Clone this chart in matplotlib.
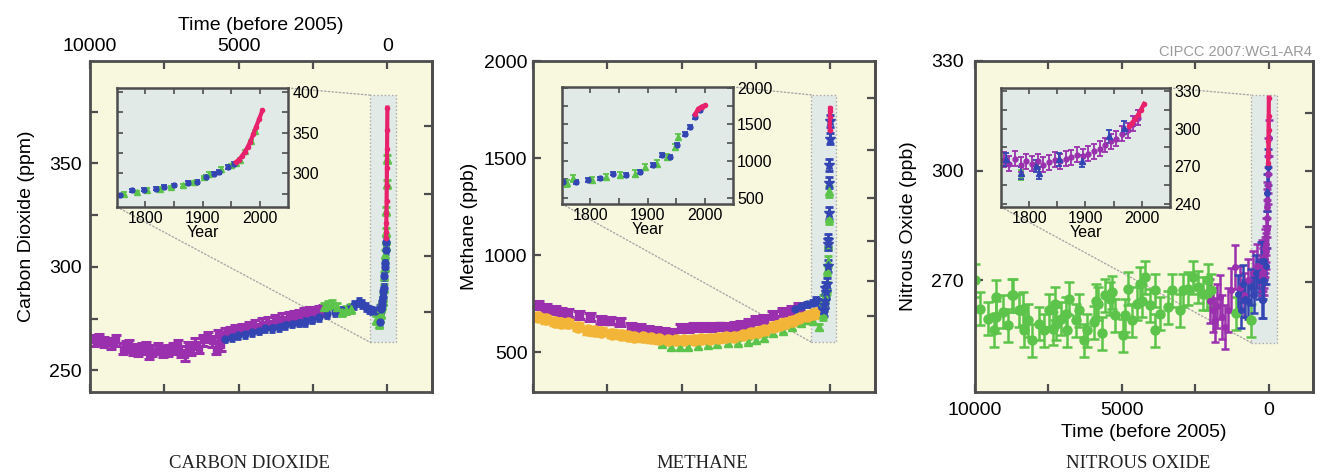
import numpy as np
import matplotlib.pyplot as plt
from matplotlib.patches import Rectangle, ConnectionPatch

plt.rcParams["font.family"] = ["Liberation Sans", "DejaVu Sans"]

PURPLE = "#9a30ad"
BLUE = "#3345b3"
GREEN = "#5cc44a"
PINK = "#e8216c"
YELLOW = "#f3b538"
MAIN_BG = "#f7f8de"
INSET_BG = "#e2eae8"
SPINE = "#4d4d4d"
GUIDE = "#a8a8a8"
BASE_YEAR = 2005

# ---------------- carbon dioxide (ppm) ----------------
# main panel: age in years before 2005
co2_purple_age = [9860, 9700, 9520, 9300, 9125, 8900, 8800, 8680, 8550, 8390, 8250, 8110,
                  8000, 7900, 7720, 7550, 7380, 7200, 7040, 6950, 6820, 6700, 6600, 6480,
                  6350, 6200, 6030, 5900, 5750, 5690, 5600, 5460, 5300, 5130, 4900, 4670,
                  4450, 4230, 4000, 3780, 3550, 3320, 3150, 2980, 2800, 2650, 2450, 2300, 2150]
co2_purple_val = [264.5, 265.0, 263.7, 263.0, 264.5, 260.5, 261.5, 262.0, 260.0, 259.7, 260.5, 261.3,
                  258.0, 259.5, 260.5, 259.0, 259.7, 260.5, 262.0, 259.0, 257.3, 261.3, 260.0, 262.9,
                  261.0, 264.5, 266.1, 264.0, 260.5, 266.9, 262.0, 267.7, 268.5, 269.3, 270.0, 270.9,
                  271.5, 272.6, 273.0, 274.2, 275.0, 275.8, 276.0, 276.6, 277.5, 278.2, 278.0, 278.6, 279.0]
co2_blue_age = [5460, 5230, 5010, 4780, 4560, 4330, 4110, 3880, 3660, 3430, 3210, 2980, 2760,
                2540, 2310, 2030, 1750, 1520, 1300, 1120, 960, 850, 735, 620, 510, 400, 280]
co2_blue_val = [265.3, 266.0, 266.9, 267.5, 268.5, 269.2, 270.2, 270.5, 270.9, 271.8, 272.6, 273.0, 273.3,
                274.5, 275.8, 277.0, 278.2, 279.0, 279.8, 281.5, 283.0, 282.0, 280.6, 279.5, 279.0, 278.5, 279.8]
co2_green_age = [2140, 2000, 1860, 1700, 1520, 1380, 1240, 395, 330, 280]
co2_green_val = [280.6, 281.5, 282.2, 280.5, 278.2, 279.0, 279.8, 274.2, 275.0, 272.6]
# inset: calendar year
co2_in_blue_year = [1756, 1776, 1797, 1818, 1832, 1850, 1874, 1891, 1906, 1921, 1929, 1944, 1956]
co2_in_blue_val = [273.3, 279.4, 280.2, 281.4, 283.5, 285.5, 288.4, 289.6, 295.7, 299.8, 301.8, 308.0, 312.0]
co2_in_green_year = [1762, 1785, 1803, 1826, 1844, 1865, 1885, 1903, 1912, 1932, 1950, 1959, 1965, 1975, 1985, 1992]
co2_in_green_val = [275.3, 277.3, 280.2, 281.4, 283.5, 285.5, 289.6, 295.7, 299.8, 306.0, 310.0, 312.9,
                    317.0, 327.0, 340.0, 352.0]
co2_in_pink_year = [1959, 1964, 1969, 1974, 1979, 1984, 1989, 1994, 1999, 2005]
co2_in_pink_val = [314, 317, 321, 326, 332, 339, 348, 357, 366, 377]

# ---------------- methane (ppb) ----------------
ch4_purple_age = [9830, 9550, 9270, 9050, 8830, 8450, 8100, 7700, 7400, 7090, 6700, 6400, 6140,
                  5850, 5580, 5300, 5020, 4800, 4570, 4300, 4010, 3700, 3450, 3200, 3000, 2750,
                  2500, 2220, 1940, 1600, 1300, 1040]
ch4_purple_val = [742, 728, 716, 708, 700, 690, 682, 665, 662, 656, 630, 625, 613,
                  608, 605, 600, 622, 625, 630, 628, 630, 632, 630, 635, 639, 650,
                  665, 670, 690, 705, 715, 733]
ch4_yellow_age = [9830, 9550, 9270, 9050, 8830, 8500, 8150, 7900, 7700, 7350, 7030, 6800, 6590,
                  6300, 6020, 5750, 5470, 5200, 4910, 4600, 4340, 4050, 3790, 3500, 3230, 2950,
                  2660, 2450, 2220, 1940, 1700, 1500, 1250, 1040, 800, 600, 480]
ch4_yellow_val = [682, 668, 656, 652, 648, 630, 613, 608, 605, 595, 588, 583, 579,
                  575, 571, 566, 562, 561, 562, 563, 565, 568, 571, 575, 579, 588,
                  596, 605, 613, 630, 640, 650, 660, 674, 685, 695, 700]
ch4_green_age = [5650, 5350, 5050, 4790, 4450, 4120, 3800, 3450, 3100, 2780, 2500, 2220, 1940,
                 1600, 1300, 1000, 815, 600, 370]
ch4_green_val = [540, 527, 525, 527, 532, 536, 540, 545, 549, 553, 562, 571, 596,
                 610, 630, 650, 665, 660, 630]
ch4_blue_age = [1200, 1000, 800, 600, 480, 350, 300]
ch4_blue_val = [720, 735, 745, 755, 768, 760, 740]
ch4_in_blue_year = [1752, 1775, 1796, 1816, 1840, 1863, 1887, 1910, 1925, 1940, 1951, 1966, 1975, 1984, 1992]
ch4_in_blue_val = [717, 717, 740, 762, 830, 808, 853, 943, 1079, 1057, 1215, 1373, 1464, 1600, 1690]
ch4_in_green_year = [1758, 1770, 1802, 1828, 1852, 1878, 1896, 1916, 1934, 1948, 1954]
ch4_in_green_val = [695, 762, 740, 785, 808, 830, 921, 966, 1057, 1192, 1328]
ch4_in_pink_year = [1984, 1989, 1995, 2001]
ch4_in_pink_val = [1645, 1713, 1744, 1758]

# ---------------- nitrous oxide (ppb) ----------------
n2o_green_age = [10000, 9835, 9570, 9340, 9280, 9270, 9060, 8890, 8740, 8710, 8500, 8380, 8330,
                 8180, 8050, 7820, 7650, 7480, 7360, 7280, 7240, 7090, 6910, 6860, 6810, 6580,
                 6470, 6300, 6190, 5960, 5900, 5820, 5680, 5570, 5400, 5340, 5230, 4980, 4890,
                 4780, 4660, 4500, 4380, 4320, 4210, 4040, 3870, 3870, 3700, 3420, 3300, 3020,
                 2910, 2740, 2570, 2400, 2230, 2120, 2060, 1960, 1110, 610]
n2o_green_val = [270.0, 262.3, 259.5, 256.4, 260.0, 265.5, 261.4, 257.7, 265.9, 265.9, 261.8, 262.3, 256.4,
                 259.1, 253.6, 258.2, 256.4, 261.8, 256.8, 263.6, 258.2, 259.5, 260.9, 256.4, 265.0, 259.1,
                 261.8, 253.6, 256.4, 258.6, 264.5, 263.6, 255.5, 265.9, 265.0, 266.8, 260.5, 255.0, 260.5,
                 267.7, 259.1, 263.6, 269.1, 264.5, 270.9, 263.2, 256.4, 267.3, 260.9, 262.7, 267.3, 261.8,
                 267.3, 267.7, 270.9, 268.2, 266.4, 266.4, 270.0, 267.3, 261.0, 259.1]
n2o_purple_age = [2010, 1900, 1840, 1750, 1670, 1580, 1500, 1390, 1280, 1160, 1000, 850, 700, 550, 400]
n2o_purple_val = [264.5, 262.0, 259.1, 263.0, 265.5, 260.0, 257.3, 261.8, 267.3, 273.6, 268.0, 266.0, 270.0, 272.0, 274.0]
n2o_blue_age = [1050, 960, 880, 800, 710, 610, 520, 440, 350, 270]
n2o_blue_val = [266.4, 262.0, 269.1, 265.0, 264.5, 268.2, 266.0, 271.9, 270.0, 275.5]
n2o_in_purple_year = [1755, 1765, 1775, 1785, 1795, 1805, 1815, 1825, 1835, 1845, 1855, 1865, 1875,
                      1885, 1895, 1905, 1915, 1925, 1935, 1945, 1955, 1965, 1975, 1985, 1993]
n2o_in_purple_val = [275, 272, 276, 271, 274, 272, 274, 271, 273, 275, 274, 276, 277,
                     279, 278, 280, 282, 284, 287, 290, 292, 296, 299, 304, 309]
n2o_in_blue_year = [1759, 1785, 1812, 1818, 1853, 1894, 1941, 1968]
n2o_in_blue_val = [275.4, 264.6, 270.0, 264.6, 275.4, 274.0, 294.0, 301.0]
n2o_in_green_year = [1785]
n2o_in_green_val = [263.0]
n2o_in_pink_year = [1978, 1983, 1988, 1993, 1998, 2004]
n2o_in_pink_val = [302, 305, 308, 311, 315, 320]

W, H = 1320, 475
fig = plt.figure(figsize=(W / 100, H / 100), dpi=100)


def rect(left, top, right, bottom):
    return [left / W, 1 - bottom / H, (right - left) / W, (bottom - top) / H]


def series(ax, x, y, color, err, marker="o", ms=3.5, cap=2.5, lw=1.3, z=2):
    ax.errorbar(x, y, yerr=err, fmt=marker, ms=ms, color=color, mec=color, ecolor=color,
                elinewidth=lw, capsize=cap, capthick=lw, zorder=z)


def recent(ax, year, val, ms=3):
    age = BASE_YEAR - np.array(year)
    ax.plot(age, val, color=PINK, lw=3, marker="o", ms=ms, zorder=4)


def main_panel(box, ylim, ymajor, yminor, forcing, fticks):
    ax = fig.add_axes(rect(*box))
    ax.set_facecolor(MAIN_BG)
    ax.set_xlim(10000, -1500)
    ax.set_ylim(*ylim)
    ax.set_xticks([10000, 5000, 0])
    ax.set_xticks([7500, 2500], minor=True)
    ax.set_yticks(ymajor)
    ax.set_yticks(yminor, minor=True)
    ax.tick_params(which="both", direction="in", top=True, bottom=True, left=True, right=False,
                   length=6, width=1.6, color=SPINE, labelsize=14,
                   labelbottom=False, labeltop=False)
    for s in ax.spines.values():
        s.set_color(SPINE)
        s.set_linewidth(2)
    sec = ax.secondary_yaxis("right", functions=forcing)
    sec.set_yticks(fticks, labels=[""] * len(fticks))
    sec.tick_params(direction="in", length=6, width=1.6, color=SPINE)
    sec.spines["right"].set_color(SPINE)
    sec.spines["right"].set_linewidth(2)
    return ax


def inset_panel(box, ylim, ymajor, yminor):
    ax = fig.add_axes(rect(*box))
    ax.set_facecolor(INSET_BG)
    ax.set_xlim(1750, 2050)
    ax.set_ylim(*ylim)
    ax.set_xticks([1800, 1900, 2000])
    ax.set_xticks([1850, 1950], minor=True)
    ax.set_yticks(ymajor)
    ax.set_yticks(yminor, minor=True)
    ax.tick_params(which="both", direction="in", top=True, bottom=True, left=True, right=True,
                   labelleft=False, labelright=True, length=4, width=1.2, color=SPINE,
                   labelsize=11.5, pad=3)
    ax.set_xlabel("Year", fontsize=11.5, labelpad=-1)
    for s in ax.spines.values():
        s.set_color(SPINE)
        s.set_linewidth(1.8)
    return ax


def zoom_box(ax, inset, x0, x1, y0, y1):
    ax.add_patch(Rectangle((x0, y0), x1 - x0, y1 - y0, facecolor=INSET_BG, edgecolor=GUIDE,
                           ls=":", lw=1, zorder=1))
    for a, b in [((1, 1), (x0, y1)), ((0, 0), (x0, y0))]:
        con = ConnectionPatch(xyA=a, coordsA=inset.transAxes, xyB=b, coordsB=ax.transData,
                              color=GUIDE, ls=":", lw=1, zorder=1.1)
        ax.add_artist(con)


# ---------- CO2 ----------
ax1 = main_panel((90, 61, 432, 392), (239.5, 399.5), [250, 300, 350], [275, 325, 375],
                 (lambda c: 5.35 * np.log(np.clip(c, 1, None) / 278.0),
                  lambda f: 278.0 * np.exp(f / 5.35)),
                 [0, 0.5, 1.0, 1.5])
ax1.tick_params(axis="x", labeltop=True, pad=4)
ax1.tick_params(axis="y", pad=6)
ax1.xaxis.set_label_position("top")
ax1.set_xlabel("Time (before 2005)", fontsize=14, labelpad=6)
ax1.set_ylabel("Carbon Dioxide (ppm)", fontsize=14, labelpad=10)
series(ax1, co2_purple_age, co2_purple_val, PURPLE, 2.6, "s", 5, 3.5, 2.2)
series(ax1, co2_blue_age, co2_blue_val, BLUE, 1.8, "o", 5, 2.5, 2)
series(ax1, co2_green_age, co2_green_val, GREEN, 2.0, "^", 6, 3, 2)
series(ax1, BASE_YEAR - np.array(co2_in_green_year), co2_in_green_val, GREEN, 2.0, "^", 6, 3, 2)
series(ax1, BASE_YEAR - np.array(co2_in_blue_year), co2_in_blue_val, BLUE, 2.0, "o", 5, 2.5, 2)
recent(ax1, co2_in_pink_year, co2_in_pink_val)

in1 = inset_panel((117, 88, 288, 207), (259, 404.5), [300, 350, 400], [275, 325, 375])
series(in1, co2_in_green_year, co2_in_green_val, GREEN, 1.5, "^", 4, 2)
series(in1, co2_in_blue_year, co2_in_blue_val, BLUE, 2.0, "o", 3.5, 2)
in1.plot(co2_in_pink_year, co2_in_pink_val, color=PINK, lw=3, marker="o", ms=3, zorder=4)
zoom_box(ax1, in1, 574, -304, 263.5, 383)

# ---------- CH4 ----------
ax2 = main_panel((533, 61, 875, 392), (294, 2000), [500, 1000, 1500, 2000], [],
                 (lambda m: 0.0306 * (np.sqrt(np.clip(m, 0, None)) - 26.2),
                  lambda f: (f / 0.0306 + 26.2) ** 2),
                 [0, 0.1, 0.2, 0.3, 0.4, 0.5])
ax2.tick_params(axis="y", pad=4)
ax2.set_ylabel("Methane (ppb)", fontsize=14, labelpad=4)
series(ax2, ch4_green_age, ch4_green_val, GREEN, 14, "^", 6, 3, 2)
series(ax2, ch4_purple_age, ch4_purple_val, PURPLE, 20, "s", 6, 4, 2.2)
series(ax2, ch4_yellow_age, ch4_yellow_val, YELLOW, 18, "o", 8, 4, 2.5)
series(ax2, ch4_blue_age, ch4_blue_val, BLUE, 14, "o", 5, 3, 2)
series(ax2, BASE_YEAR - np.array(ch4_in_green_year), ch4_in_green_val, GREEN, 30, "^", 6, 3, 2)
series(ax2, BASE_YEAR - np.array(ch4_in_blue_year), ch4_in_blue_val, BLUE, 30, "*", 7, 3, 2)
recent(ax2, ch4_in_pink_year, ch4_in_pink_val)

in2 = inset_panel((562, 87, 733, 204), (414, 2010), [500, 1000, 1500, 2000],
                  [750, 1250, 1750])
series(in2, ch4_in_green_year, ch4_in_green_val, GREEN, 45, "^", 4, 2)
series(in2, ch4_in_blue_year, ch4_in_blue_val, BLUE, 25, "o", 3.5, 2)
in2.plot(ch4_in_pink_year, ch4_in_pink_val, color=PINK, lw=3, marker="o", ms=3, zorder=4)
zoom_box(ax2, in2, 638, -202, 551, 1825)

# ---------- N2O ----------
ax3 = main_panel((975, 61, 1313, 392), (239.5, 330), [270, 300, 330], [],
                 (lambda n: 0.111 * (np.sqrt(np.clip(n, 0, None)) - 16.42),
                  lambda f: (f / 0.111 + 16.42) ** 2),
                 [0, 0.05, 0.1, 0.15])
ax3.tick_params(axis="x", labelbottom=True, pad=7)
ax3.tick_params(axis="y", pad=8)
ax3.set_xlabel("Time (before 2005)", fontsize=14, labelpad=4)
ax3.set_ylabel("Nitrous Oxide (ppb)", fontsize=14, labelpad=10)
series(ax3, n2o_green_age, n2o_green_val, GREEN, 4.5, "o", 6.5, 3.5, 1.8)
series(ax3, n2o_purple_age, n2o_purple_val, PURPLE, 6, "o", 4, 3, 1.8)
series(ax3, n2o_blue_age, n2o_blue_val, BLUE, 5, "o", 4, 3, 1.8)
series(ax3, BASE_YEAR - np.array(n2o_in_purple_year), n2o_in_purple_val, PURPLE, 5, "o", 4, 3, 1.8)
series(ax3, BASE_YEAR - np.array(n2o_in_blue_year), n2o_in_blue_val, BLUE, 5, "o", 4, 3, 1.8)
recent(ax3, n2o_in_pink_year, n2o_in_pink_val)

in3 = inset_panel((1001, 88, 1170, 207), (237.3, 332.7), [240, 270, 300, 330],
                  [255, 285, 315])
series(in3, n2o_in_green_year, n2o_in_green_val, GREEN, 4, "o", 3.5, 2)
series(in3, n2o_in_purple_year, n2o_in_purple_val, PURPLE, 6, "o", 3.5, 2.5)
series(in3, n2o_in_blue_year, n2o_in_blue_val, BLUE, 5, "^", 4, 2)
in3.plot(n2o_in_pink_year, n2o_in_pink_val, color=PINK, lw=3, marker="o", ms=3, zorder=4)
zoom_box(ax3, in3, 608, -270, 253, 320.7)

# captions
fig.text(1312 / W, 1 - 52 / H, "CIPCC 2007:WG1-AR4", ha="right", va="center",
         fontsize=10.5, color="#9a9a9a")
for x, name in [(249, "CARBON DIOXIDE"), (702, "METHANE"), (1138, "NITROUS OXIDE")]:
    fig.text(x / W, 1 - 463 / H, name, ha="center", va="center", fontsize=13.5,
             family=["Liberation Serif", "DejaVu Serif"], color="#222222")

fig.savefig("out.png", dpi=100)
